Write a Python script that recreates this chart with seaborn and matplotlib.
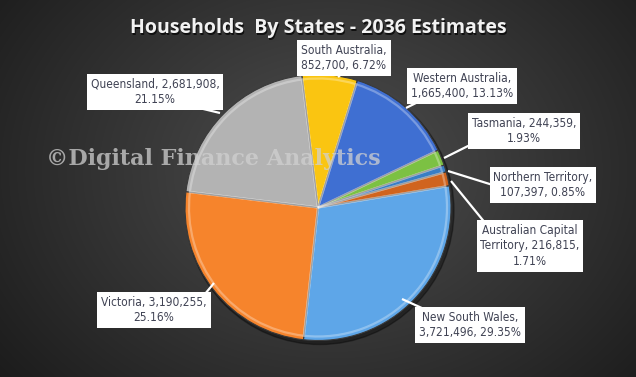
import matplotlib.pyplot as plt
import numpy as np
import seaborn as sns
from matplotlib.patches import Circle

# Households by state, 2036 estimates (order = clockwise from top)
states = ["South Australia", "Western Australia", "Tasmania", "Northern Territory",
          "Australian Capital Territory", "New South Wales", "Victoria", "Queensland"]
households = [852700, 1665400, 244359, 107397, 216815, 3721496, 3190255, 2681908]
slice_colors = ["#FAC511", "#3F6FD2", "#7CC143", "#3A7EC4",
                "#D0641E", "#5EA6E8", "#F6842C", "#B3B3B3"]

# how each label is broken over lines
label_formats = [
    "{n},\n{v}, {p}",
    "{n},\n{v}, {p}",
    "{n}, {v},\n{p}",
    "{n},\n{v}, {p}",
    "Australian Capital\nTerritory, {v},\n{p}",
    "{n},\n{v}, {p}",
    "{n}, {v},\n{p}",
    "{n}, {v},\n{p}",
]
# label box centres and leader lines (pixels)
label_pos = [(344, 58), (462, 86), (524, 131), (543, 185),
             (530, 246), (470, 325), (154, 310), (155, 92)]
leaders = [((344, 72), (338, 77)), ((418, 102), (406, 108)), ((476, 142), (444, 158)),
           ((496, 186), (448, 171)), ((486, 224), (451, 181)), ((424, 309), (402, 299)),
           ((205, 294), (214, 283)), ((195, 107), (220, 113))]

W, H = 636, 377
sns.set_style("dark")
plt.rcParams["font.family"] = ["DejaVu Sans"]

fig = plt.figure(figsize=(W / 100, H / 100), dpi=100)
ax = fig.add_axes([0, 0, 1, 1])

# dark radial background
yy, xx = np.mgrid[0:H, 0:W]
d = np.sqrt(((xx - 330) / 420) ** 2 + ((yy - 170) / 330) ** 2)
shade = np.clip(0.31 - 0.2 * d, 0.1, 0.31)
ax.imshow(np.dstack([shade] * 3), extent=[0, W, H, 0], zorder=0)

cx, cy, r = 318, 207.5, 133

# drop shadow
ax.add_patch(Circle((cx + 2, cy + 3), r + 1, color="black", alpha=0.35, zorder=1))

wedges, _ = ax.pie(households, colors=slice_colors, startangle=-97, counterclock=True,
                   center=(cx, cy), radius=r, frame=True,
                   wedgeprops=dict(edgecolor="#3a3a3a", linewidth=0.8, zorder=2))
# bevel-ish highlight inside each slice rim
ax.pie(households, colors=["none"] * len(households), startangle=-97, counterclock=True,
       center=(cx, cy), radius=r - 4, frame=True,
       wedgeprops=dict(edgecolor=(1, 1, 1, 0.3), linewidth=1.6, fill=False, zorder=3))

total = sum(households)
for i, (name, val) in enumerate(zip(states, households)):
    txt = label_formats[i].format(n=name, v=f"{val:,}", p=f"{val / total * 100:.2f}%")
    (x0, y0), (x1, y1) = leaders[i]
    ax.plot([x0, x1], [y0, y1], color="white", lw=1.6, zorder=4, solid_capstyle="butt")
    ax.text(*label_pos[i], txt, ha="center", va="center", fontsize=8.6,
            fontstretch="condensed", color="#404354", linespacing=1.25, zorder=5,
            bbox=dict(boxstyle="square,pad=0.32", fc="white", ec="none"))

# watermark
ax.text(46, 159, "\u00a9Digital Finance Analytics", ha="left", va="center",
        fontsize=16, fontweight="heavy", family="DejaVu Serif",
        color="#d0d0d0", alpha=0.75, zorder=6)

# title with soft shadow
title = "Households  By States - 2036 Estimates"
ax.text(W / 2 + 1.5, 29.5, title, ha="center", va="center", fontsize=14,
        fontweight="bold", family=["Open Sans", "DejaVu Sans"], color="#101010", zorder=6)
ax.text(W / 2, 28, title, ha="center", va="center", fontsize=14,
        fontweight="bold", family=["Open Sans", "DejaVu Sans"], color="#f2f2f2", zorder=7)

ax.set_xlim(0, W)
ax.set_ylim(H, 0)
ax.set_aspect("auto")
ax.axis("off")

fig.savefig("out.png", dpi=100)
